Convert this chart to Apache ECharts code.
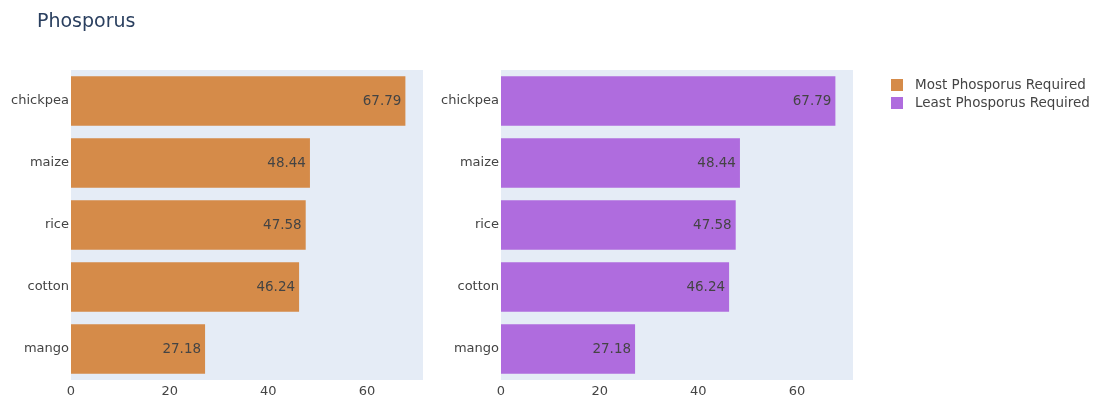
<!DOCTYPE html>
<html>
<head>
<meta charset="utf-8">
<script src="https://cdn.jsdelivr.net/npm/echarts@6/dist/echarts.min.js"></script>
<style>
  html, body { margin: 0; padding: 0; background: #fff; }
  #chart { width: 1101px; height: 396px; }
</style>
</head>
<body>
<div id="chart"></div>
<script>
// Crops and their phosphorus requirement, top to bottom
const crops = ['chickpea', 'maize', 'rice', 'cotton', 'mango'];
const mostRequired = [67.79, 48.44, 47.58, 46.24, 27.18];
const leastRequired = [67.79, 48.44, 47.58, 46.24, 27.18];
const xTicks = [0, 20, 40, 60];

const seriesNames = ['Most Phosporus Required', 'Least Phosporus Required'];
const colors = ['#D58B49', '#AF6CDE'];
const textColor = '#444';
const plotBg = '#E5ECF6';
const font = '"DejaVu Sans", Verdana, sans-serif';
const xMax = 71.36;

function makeXAxis(gridIndex) {
  return {
    type: 'value', gridIndex, min: 0, max: xMax, interval: 20,
    axisLine: { show: false }, axisTick: { show: false },
    splitLine: { show: false },
    axisLabel: {
      color: textColor, fontSize: 13, fontFamily: font,
      margin: 5,
      formatter: v => xTicks.includes(v) ? String(v) : ''
    }
  };
}
function makeYAxis(gridIndex) {
  return {
    type: 'category', gridIndex, data: crops, inverse: true,
    axisLine: { show: false }, axisTick: { show: false },
    splitLine: { show: false },
    axisLabel: { color: textColor, fontSize: 13, fontFamily: font, margin: 2, padding: [3, 0, 0, 0] }
  };
}
function makeSeries(i, values) {
  return {
    name: seriesNames[i], type: 'bar', xAxisIndex: i, yAxisIndex: i,
    data: values, barCategoryGap: '20%',
    itemStyle: { color: colors[i] },
    label: {
      show: true, position: 'insideRight', distance: 4,
      color: textColor, fontSize: 13.5, fontFamily: font,
      padding: [3, 0, 0, 0],
      formatter: p => p.value.toFixed(2)
    }
  };
}

const chart = echarts.init(document.getElementById('chart'));
chart.setOption({
  animation: false,
  backgroundColor: '#fff',
  title: {
    text: 'Phosporus', left: 32, top: 8,
    textStyle: { color: '#2a3f5f', fontSize: 19, fontWeight: 'normal', fontFamily: font }
  },
  legend: {
    orient: 'vertical', left: 886, top: 73, itemGap: 4,
    itemWidth: 12, itemHeight: 12, icon: 'rect',
    textStyle: { color: textColor, fontSize: 13.5, fontFamily: font, padding: [0, 0, 0, 7] },
    data: seriesNames
  },
  grid: [
    { left: 71, top: 70, width: 352, height: 310, outerBoundsMode: 'none', containLabel: false,
      show: true, backgroundColor: plotBg, borderWidth: 0 },
    { left: 501, top: 70, width: 352, height: 310, outerBoundsMode: 'none', containLabel: false,
      show: true, backgroundColor: plotBg, borderWidth: 0 }
  ],
  xAxis: [makeXAxis(0), makeXAxis(1)],
  yAxis: [makeYAxis(0), makeYAxis(1)],
  series: [makeSeries(0, mostRequired), makeSeries(1, leastRequired)]
});
</script>
</body>
</html>
